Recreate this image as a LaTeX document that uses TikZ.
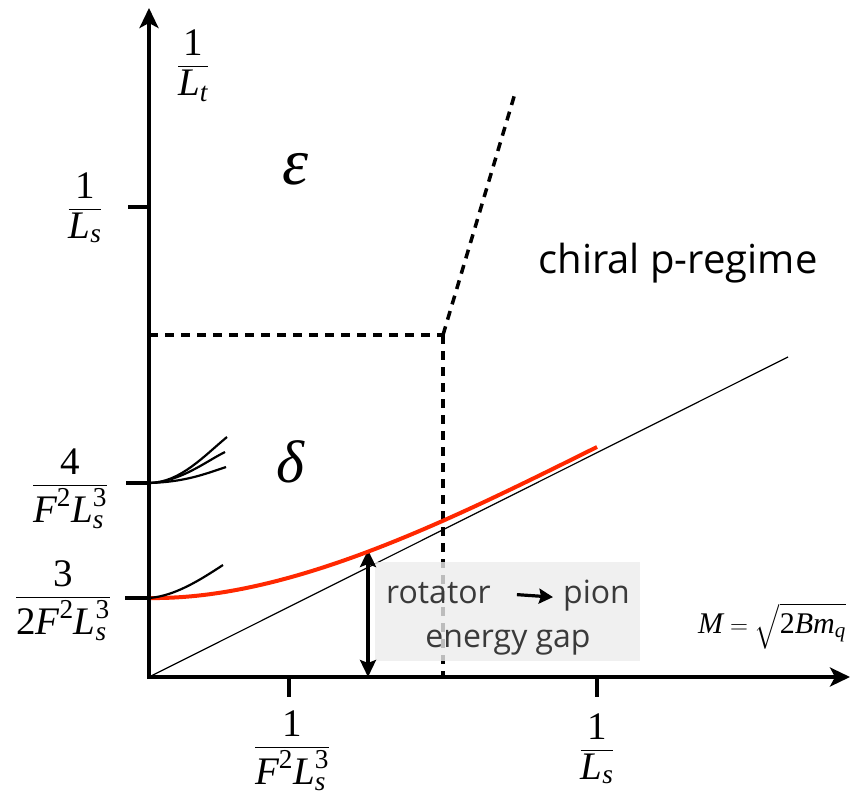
\documentclass[tikz,border=0pt]{standalone}
\usepackage{amsmath}
\usepackage{fontspec}
\newfontfamily\gillfont{Open Sans}
\newfontfamily\tnrfont{Liberation Serif}
\newcommand{\tI}[1]{\text{\tnrfont\itshape #1}}
\newcommand{\tR}[1]{\text{\tnrfont #1}}
\usetikzlibrary{arrows.meta}
\definecolor{redcurve}{RGB}{255,40,0}
\definecolor{boxgray}{RGB}{236,236,236}
\definecolor{boxtext}{RGB}{58,58,58}
\tikzset{
  axis/.style={line width=3.5pt, -{Stealth[length=20pt,width=19pt,inset=5pt]}},
  tick/.style={line width=3.5pt},
  dashline/.style={line width=3.5pt, dash pattern=on 9pt off 7pt},
  mlabel/.style={font=\fontsize{39}{44}\selectfont, inner sep=0pt},
  level/.style={line width=2.2pt},
  gap/.style={line width=3.2pt, {Stealth[length=17pt,width=16pt,inset=3pt]}-{Stealth[length=17pt,width=16pt,inset=3pt]}},
  boxt/.style={font=\gillfont\fontsize{32}{38}\selectfont, text=boxtext, inner sep=0pt}
}
\begin{document}
\begin{tikzpicture}[x=1pt,y=-1pt]
\useasboundingbox (0,0) rectangle (854,795);
% coordinates
\coordinate (O) at (149,677);
\coordinate (ytop) at (149,8);
\coordinate (xend) at (850,677);
\coordinate (corner) at (443,335);
\coordinate (hl) at (149,335);
\coordinate (dtop) at (516,90);
\coordinate (E4) at (149,483);
\coordinate (E3) at (149,598);
\coordinate (thinEnd) at (788,357);
\coordinate (gapTop) at (368,550);
\coordinate (gapBot) at (368,677);
\coordinate (redEnd) at (597,447);
% dashed lines
\draw[dashline] (hl) -- (corner);
\draw[dashline] (corner) -- (dtop);
\draw[dashline] (corner) -- (443,677);
% thin line
\draw[line width=1.2pt] (O) -- (thinEnd);
% box
\fill[boxgray, fill opacity=0.8] (375,562) rectangle (640,661);
\node[boxt, anchor=base west] (rot) at (386,603) {rotator};
\node[boxt, anchor=base west] (pion) at (563,603) {pion};
\draw[line width=3.2pt, -{Stealth[length=14pt,width=15pt,inset=2pt]}] ([xshift=26pt,yshift=-2pt]rot.east) -- ([xshift=-10pt,yshift=-2pt]pion.west);
\node[boxt, anchor=base] (egap) at (508,647) {energy gap};
% gap arrow
\draw[gap] (gapTop) -- (gapBot);
% red curve
\draw[redcurve, line width=4pt] (E3) .. controls (290,600) and (450,520) .. (redEnd);
% level curves
\draw[level] (E4) .. controls (180,483) and (205,455) .. (227,437);
\draw[level] (E4) .. controls (180,482) and (205,462) .. (225,452);
\draw[level] (E4) .. controls (185,482) and (205,474) .. (226,467);
\draw[level] (E3) .. controls (175,596) and (200,580) .. (223,565);
% axes
\draw[axis] (149,679) -- (ytop);
\draw[axis] (147,677) -- (xend);
% ticks
\draw[tick] (128,207) -- (149,207);
\draw[tick] (126,483) -- (149,483);
\draw[tick] (125,598) -- (149,598);
\draw[tick] (289,677) -- (289,697);
\draw[tick] (597,677) -- (597,697);
% labels
\node[mlabel] (lt) at (193,66) {$\dfrac{\tR{1}}{\tI{L}_{\tI{t}}}$};
\node[mlabel] (ls) at (85,208) {$\dfrac{\tR{1}}{\tI{L}_{\tI{s}}}$};
\node[mlabel] (l4) at (70,489) {$\dfrac{\tR{4}}{\tI{F}^{\tR{2}}\tI{L}_{\tI{s}}^{\tR{3}}}$};
\node[mlabel] (l3) at (63,601) {$\dfrac{\tR{3}}{\tR{2}\tI{F}^{\tR{2}}\tI{L}_{\tI{s}}^{\tR{3}}}$};
\node[mlabel] (x1) at (292,751) {$\dfrac{\tR{1}}{\tI{F}^{\tR{2}}\tI{L}_{\tI{s}}^{\tR{3}}}$};
\node[mlabel] (x2) at (597,749) {$\dfrac{\tR{1}}{\tI{L}_{\tI{s}}}$};
\node[font=\fontsize{30}{34}\selectfont, inner sep=0pt] (M) at (772,626) {$\tI{M}=\sqrt{\tR{2}\tI{Bm}_{\tI{q}}}$};
\node[font=\tnrfont\itshape\fontsize{66}{70}\selectfont, inner sep=0pt] (eps) at (295,169) {ε};
\node[font=\tnrfont\itshape\fontsize{60}{66}\selectfont, inner sep=0pt] (del) at (290,462) {δ};
\node[font=\gillfont\fontsize{40}{46}\selectfont, inner sep=0pt] (chiral) at (678,263) {chiral p-regime};
\end{tikzpicture}
\end{document}
